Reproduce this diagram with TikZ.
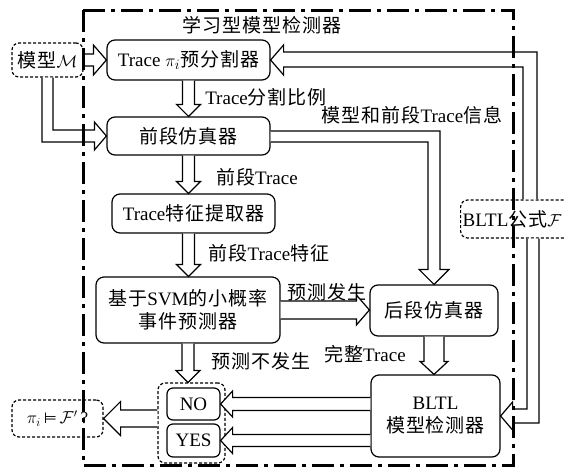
\documentclass[tikz,border=0pt]{standalone}
\usepackage{fontspec}
\setmainfont{Liberation Serif}
\newfontfamily\cjk[LetterSpace=5]{Noto Sans CJK SC}
\newfontfamily\dejavu{DejaVu Sans}
\newcommand{\zh}[1]{{\cjk #1}}
\usetikzlibrary{calc}
\newcommand{\harr}[5]{%
  \coordinate (hA) at (#1);
  \coordinate (hB) at (#2);
  \coordinate (hC) at ($(hB)!#5!(hA)$);
  \draw[hol] ($(hA)!#3!90:(hB)$) -- ($(hC)!#3!90:(hB)$) -- ($(hC)!#4!90:(hB)$) -- (hB)
     -- ($(hC)!#4!-90:(hB)$) -- ($(hC)!#3!-90:(hB)$) -- ($(hA)!#3!-90:(hB)$);
}
\tikzset{
  every node/.style={font=\fontsize{19}{22}\selectfont, inner sep=0pt},
  box/.style={draw, line width=1.2pt, rounded corners=8pt, fill=white, align=center},
  dbox/.style={draw, line width=1.2pt, rounded corners=7pt, dash pattern=on 3pt off 2pt, align=center},
  hol/.style={draw, line width=1.2pt, fill=white, line join=miter},
  frame/.style={line width=3pt, dash pattern=on 22pt off 6pt on 4pt off 6pt},
}
\begin{document}
\begin{tikzpicture}[x=1pt,y=-1pt]
\useasboundingbox (0,0) rectangle (565,469);
% boxes
\node[dbox, minimum width=71pt, minimum height=34pt] (m) at (47.5,60) {\zh{模型}$\mathcal{M}$};
\node[box, minimum width=163pt, minimum height=40pt] (tp) at (188.5,60) {Trace $\pi_i$\zh{预分割器}};
\node[box, minimum width=163pt, minimum height=38pt] (ff) at (188.5,136) {\zh{前段仿真器}};
\node[box, minimum width=163pt, minimum height=39pt] (fe) at (193.5,213.5) {Trace\zh{特征提取器}};
\node[box, minimum width=184pt, minimum height=66pt] (sv) at (188,310) {\zh{基于}SVM\zh{的小概率}\\[1pt]\zh{事件预测器}};
\node[box, minimum width=128pt, minimum height=51pt] (hd) at (434,310.5) {\zh{后段仿真器}};
\node[box, minimum width=129pt, minimum height=82pt] (bl) at (435.5,416) {BLTL\\[1pt]\zh{模型检测器}};
\node[dbox, minimum width=67pt, minimum height=80pt] (grp) at (191.5,423) {};
\node[box, minimum width=53pt, minimum height=32pt, rounded corners=6pt] (no) at (193.5,404) {NO};
\node[box, minimum width=53pt, minimum height=33pt, rounded corners=6pt] (yes) at (193.5,440.5) {YES};
\node[dbox, minimum width=91pt, minimum height=37pt] (res) at (57.5,418.5) {\fontsize{17}{20}\selectfont$\pi_i$\,{\dejavu\fontsize{15}{18}\selectfont ⊨}\,$\mathcal{F}'\,$?};
\node[dbox, minimum height=38pt, text width=111pt, align=left, inner xsep=2pt, anchor=west] (fm) at (460,219) {BLTL\zh{公式}$\mathcal{F}$};
% labels
\node (t0) at (262,25) {\zh{学习型模型检测器}};
\node (l1) at (266,97) {Trace\zh{分割比例}};
\node (l2) at (412,115) {\zh{模型和前段}Trace\zh{信息}};
\node (l3) at (257,177) {\zh{前段}Trace};
\node (l4) at (269,253) {\zh{前段}Trace\zh{特征}};
\node (l5) at (327,292) {\zh{预测发生}};
\node (l6) at (261,361) {\zh{预测不发生}};
\node (l7) at (365,354) {\zh{完整}Trace};
% straight hollow arrows
\harr{m.east}{tp.west}{6pt}{15pt}{13pt}
\harr{tp.south}{tp.south |- ff.north}{6pt}{12pt}{12pt}
\harr{ff.south}{ff.south |- fe.north}{6pt}{12pt}{12pt}
\harr{ff.south |- fe.south}{ff.south |- sv.north}{6pt}{12pt}{12pt}
\harr{sv.south}{sv.south |- grp.north}{6pt}{12pt}{12pt}
\harr{sv.east}{sv.east -| hd.west}{9pt}{15pt}{13pt}
\harr{hd.south}{hd.south |- bl.north}{10pt}{14pt}{13pt}
\harr{bl.west |- no.east}{no.east}{6.5pt}{13pt}{12pt}
\harr{bl.west |- yes.east}{yes.east}{6pt}{13pt}{12pt}
\harr{grp.west |- res.east}{res.east}{8.5pt}{17pt}{17pt}
% bent hollow arrows
\draw[hol] ($(m.south)+(-5.5,0)$) |- ($(ff.west)+(-12,6)$) -- ++(0,8) -- (ff.west)
  -- ++(-12,-14) -- ++(0,8) -| ($(m.south)+(5.5,0)$);
\draw[hol] ($(ff.east)+(0,-5)$) -| ($(hd.north)+(6,-15)$) -- ++(9,0) -- (hd.north)
  -- ++(-15,-15) -- ++(9,0) |- ($(ff.east)+(0,6)$);
\draw[hol] ($(fm.north west)+(77,0)$) |- ($(tp.east)+(13,-8)$) -- ++(0,-7) -- (tp.east)
  -- ++(13,15) -- ++(0,-8) -| ($(fm.north west)+(63,0)$);
\draw[hol] ($(fm.south west)+(79,0)$) |- ($(bl.east)+(12,7)$) -- ++(0,7) -- (bl.east)
  -- ++(12,-14) -- ++(0,7) -| ($(fm.south west)+(67,0)$);
% frame
\draw[frame] (83,10) rectangle (513,465);
\end{tikzpicture}
\end{document}
